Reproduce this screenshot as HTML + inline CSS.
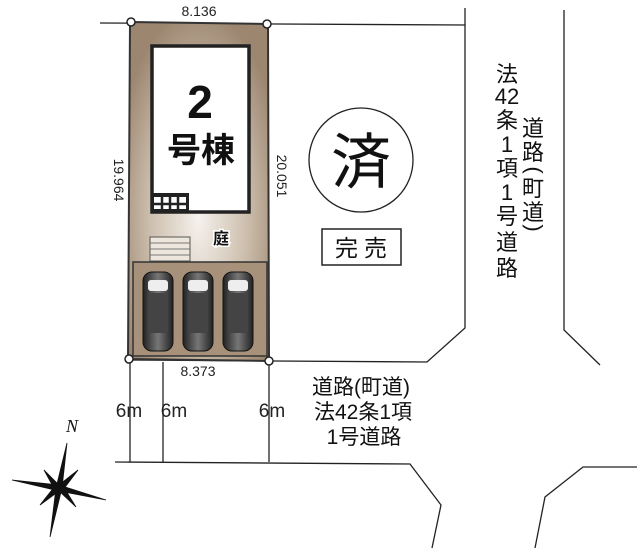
<!DOCTYPE html>
<html><head><meta charset="utf-8"><style>
body{margin:0;background:#fff;width:637px;height:548px;overflow:hidden;font-family:"Liberation Sans","Noto Sans CJK JP",sans-serif}
</style></head><body>
<svg width="637" height="548" viewBox="0 0 637 548" xmlns="http://www.w3.org/2000/svg" font-family="Liberation Sans, Noto Sans CJK JP, sans-serif">
<defs>
<radialGradient id="g" cx="0.5" cy="0.58" r="0.62">
<stop offset="0" stop-color="#f5f1ec"/><stop offset="0.55" stop-color="#cdbfae"/><stop offset="1" stop-color="#9c8670"/>
</radialGradient>
<linearGradient id="car" x1="0" x2="1"><stop offset="0" stop-color="#222"/><stop offset="0.5" stop-color="#777"/><stop offset="1" stop-color="#222"/></linearGradient>
</defs>
<g stroke="#222" fill="none" stroke-width="1.3">
<polyline points="100,23 465,25 465,328 427,362 128,360"/>
<line x1="465" y1="8" x2="465" y2="25"/>
<polyline points="564,10 564,330 600,365"/>
<polyline points="115,462 410,464 441,505 432,548"/>
<polyline points="637,467 583,467 545,497 535,548"/>
<line x1="130" y1="362" x2="130" y2="462"/>
<line x1="163" y1="362" x2="163" y2="462"/>
<line x1="269" y1="362" x2="269" y2="462"/>
</g>
<polygon points="130,22 268,24 269,361 128,359" fill="url(#g)" stroke="#333" stroke-width="2"/>
<rect x="133" y="262" width="134" height="94" fill="#a8917a" stroke="#333" stroke-width="1.5"/>
<rect x="152" y="46" width="97" height="166" fill="#fff" stroke="#222" stroke-width="3.5"/>
<rect x="151" y="193" width="38" height="20" fill="#222"/>
<rect x="154" y="197" width="32" height="12" fill="#fff"/>
<g stroke="#222" stroke-width="2.5"><line x1="162" y1="196" x2="162" y2="210"/><line x1="170" y1="196" x2="170" y2="210"/><line x1="178" y1="196" x2="178" y2="210"/><line x1="152" y1="204" x2="188" y2="204"/></g>
<rect x="150" y="237" width="40" height="24" fill="#ede6dc" stroke="#555"/>
<g stroke="#777"><line x1="150" y1="243" x2="190" y2="243"/><line x1="150" y1="249" x2="190" y2="249"/><line x1="150" y1="255" x2="190" y2="255"/></g>
<text x="200" y="118" font-size="46" font-weight="bold" text-anchor="middle" fill="#111">2</text>
<text x="201" y="162" font-size="34" font-weight="bold" text-anchor="middle" fill="#111">号棟</text>
<text x="221" y="244" font-size="16" font-weight="bold" text-anchor="middle" fill="#111" stroke="#fff" stroke-width="3" paint-order="stroke">庭</text>
<g>
<rect x="143" y="272" width="30" height="79" rx="9" fill="url(#car)" stroke="#111"/>
<rect x="148" y="280" width="20" height="11" rx="3" fill="#eee"/>
<rect x="148" y="293" width="20" height="40" fill="#444"/>
<rect x="183" y="272" width="30" height="79" rx="9" fill="url(#car)" stroke="#111"/>
<rect x="188" y="280" width="20" height="11" rx="3" fill="#eee"/>
<rect x="188" y="293" width="20" height="40" fill="#444"/>
<rect x="223" y="272" width="30" height="79" rx="9" fill="url(#car)" stroke="#111"/>
<rect x="228" y="280" width="20" height="11" rx="3" fill="#eee"/>
<rect x="228" y="293" width="20" height="40" fill="#444"/>
</g>
<g fill="#fff" stroke="#222" stroke-width="1.5">
<circle cx="131" cy="22" r="4"/><circle cx="267" cy="24" r="4"/><circle cx="129" cy="359" r="4"/><circle cx="269" cy="361" r="4"/>
</g>
<g fill="#222" font-size="14">
<text x="199" y="16" text-anchor="middle">8.136</text>
<text x="198" y="376" text-anchor="middle">8.373</text>
<text transform="translate(114,180) rotate(90)" text-anchor="middle">19.964</text>
<text transform="translate(277,176) rotate(90)" text-anchor="middle">20.051</text>
<text x="129" y="417" font-size="19" text-anchor="middle">6m</text>
<text x="174" y="417" font-size="19" text-anchor="middle">6m</text>
<text x="272" y="417" font-size="19" text-anchor="middle">6m</text>
</g>
<circle cx="361" cy="160" r="52" fill="#fff" stroke="#222" stroke-width="1.3"/>
<text x="361" y="183" font-size="60" text-anchor="middle" fill="#111">済</text>
<rect x="322" y="229" width="79" height="36" fill="#fff" stroke="#222" stroke-width="1.5"/>
<text x="364" y="256" font-size="23" text-anchor="middle" fill="#111" letter-spacing="6">完売</text>
<g font-size="22" fill="#111" text-anchor="middle">
<text x="507" y="82">法</text><text x="507" y="104">42</text><text x="507" y="128">条</text><text x="507" y="152">1</text><text x="507" y="176">項</text><text x="507" y="200">1</text><text x="507" y="224">号</text><text x="507" y="250">道</text><text x="507" y="276">路</text>
<text x="533" y="136">道</text><text x="533" y="160">路</text><text x="533" y="176" transform="rotate(90 533 170)">(</text><text x="533" y="196">町</text><text x="533" y="220">道</text><text x="533" y="234" transform="rotate(90 533 228)">)</text>
</g>
<g font-size="21" fill="#111" text-anchor="middle">
<text x="361" y="394">道路(町道)</text>
<text x="363" y="419">法42条1項</text>
<text x="364" y="444">1号道路</text>
</g>
<text x="72" y="432" font-size="18" font-style="italic" font-family="Liberation Serif, serif" text-anchor="middle" fill="#111">N</text>
<g fill="#111" stroke="#111" stroke-width="0.8">
<polygon points="67,443 62,488 56,488"/>
<polygon points="50,537 56,488 62,488"/>
<polygon points="12,480 59,485 59,491"/>
<polygon points="106,500 59,491 59,485"/>
<polygon points="44,470 59,485 55,490"/><polygon points="78,470 59,485 63,490"/>
<polygon points="40,505 59,491 55,486"/><polygon points="76,507 59,491 63,486"/>
</g>
</svg>
</body></html>
